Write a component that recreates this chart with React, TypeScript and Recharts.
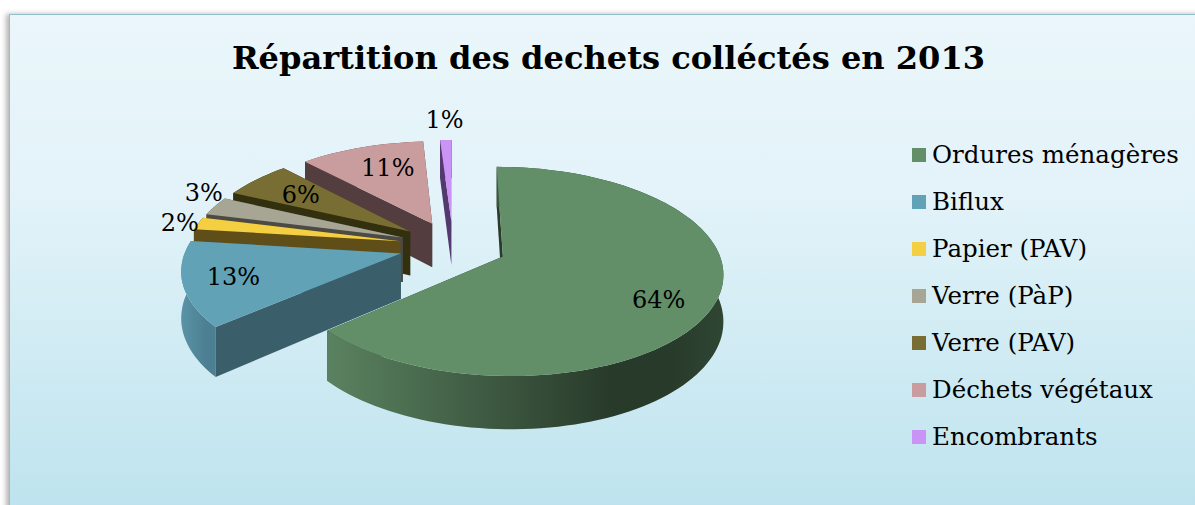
import React from 'react';
import { PieChart, Pie, Legend } from 'recharts';

const categories = ['Ordures ménagères', 'Biflux', 'Papier (PAV)', 'Verre (PàP)', 'Verre (PAV)', 'Déchets végétaux', 'Encombrants'];
const shares = [63.6, 13.4, 2, 3, 6, 11, 1];
const topColors = ['#628e68', '#62a2b7', '#f4cf42', '#a7a695', '#786e33', '#c99d9e', '#c994f5'];
const wallColors = ['#2a3b2c', '#3a5f6b', '#5f4e18', '#4c4a45', '#33300f', '#533d3f', '#54396e'];
const rimFrom = ['#5a8260', '#5a93a7', '#6a5a1c', '#55534b', '#3a3612', '#5a4345', '#5c3f78'];
const rimMid = ['#283a2a', '#4d7f92', '#5f4e18', '#4c4a45', '#33300f', '#533d3f', '#54396e'];
// label placement per slice: fraction of the radius, and angle nudge in degrees
const labelRadius = [0.775, 0.775, 1.09, 1.135, 0.695, 0.695, 1.285];
const labelNudge = [-6.6, 0, 0.5, -6, 0, -3, 0];

const CX = 453;
const CY = 246;
const RADIUS = 214;
const EXPLODE = 54;
const TILT = 0.465;
const PERSPECTIVE = 0.14;
const DEPTH = 45;
const SERIF = '"DejaVu Serif", serif';

// drawn far slice first: the list runs backwards and the pie runs counter-clockwise
const table = categories
  .map((name, i) => ({ name, value: shares[i], fill: topColors[i], idx: i }))
  .reverse();

const rad = (d: number) => (d * Math.PI) / 180;

function project(x: number, y: number, cx: number, cy: number, r: number, down = 0) {
  const s = 1 / (1 + (PERSPECTIVE * y) / r);
  return { x: cx + x * s, y: cy - TILT * y * s + down * s };
}

function path(pts: { x: number; y: number }[]) {
  return pts.map((p, i) => `${i ? 'L' : 'M'}${p.x.toFixed(1)} ${p.y.toFixed(1)}`).join(' ') + ' Z';
}

function Slice(props: any) {
  const { cx, cy, outerRadius: r, startAngle, endAngle, fill, payload } = props;
  const idx = payload?.idx ?? props.idx;
  const a0 = Math.min(startAngle, endAngle);
  const a1 = Math.max(startAngle, endAngle);
  const mid = (a0 + a1) / 2;
  const ox = EXPLODE * Math.cos(rad(mid));
  const oy = EXPLODE * Math.sin(rad(mid));
  const at = (a: number, f: number, down = 0) =>
    project(ox + f * r * Math.cos(rad(a)), oy + f * r * Math.sin(rad(a)), cx, cy, r, down);

  const steps = Math.max(3, Math.ceil((a1 - a0) / 2));
  const arc: number[] = [];
  for (let i = 0; i <= steps; i++) arc.push(a0 + ((a1 - a0) * i) / steps);

  const apex = at(0, 0);
  const apexLow = at(0, 0, DEPTH);
  const top = [apex, ...arc.map((a) => at(a, 1))];
  const rim = [...arc.map((a) => at(a, 1)), ...arc.slice().reverse().map((a) => at(a, 1, DEPTH))];
  const wallA = [apex, at(a0, 1), at(a0, 1, DEPTH), apexLow];
  const wallB = [apex, at(a1, 1), at(a1, 1, DEPTH), apexLow];
  // a cut face is only seen when it turns towards the viewer
  const aFront = Math.sin(rad(a0 - 90)) < 0;
  const bFront = Math.sin(rad(a1 + 90)) < -0.01;
  const gradId = `rim-${idx}`;

  return (
    <g>
      <defs>
        <linearGradient id={gradId} x1="0" y1="0" x2="1" y2="0">
          <stop offset="0" stopColor={rimFrom[idx]} />
          <stop offset="0.72" stopColor={rimMid[idx]} />
          <stop offset="0.86" stopColor={rimMid[idx]} />
          <stop offset="1" stopColor={idx === 0 ? '#2f4633' : rimMid[idx]} />
        </linearGradient>
      </defs>
      {!aFront && <path d={path(wallA)} fill={wallColors[idx]} />}
      {!bFront && <path d={path(wallB)} fill={wallColors[idx]} />}
      <path d={path(rim)} fill={`url(#${gradId})`} />
      {aFront && <path d={path(wallA)} fill={wallColors[idx]} />}
      {bFront && <path d={path(wallB)} fill={wallColors[idx]} />}
      <path d={path(top)} fill={fill} />
    </g>
  );
}

function sliceLabel(props: any) {
  const { cx, cy, midAngle, outerRadius: r, payload } = props;
  const idx = payload?.idx ?? props.idx;
  const ox = EXPLODE * Math.cos(rad(midAngle));
  const oy = EXPLODE * Math.sin(rad(midAngle));
  const a = midAngle + labelNudge[idx];
  const f = labelRadius[idx] * r;
  const p = project(ox + f * Math.cos(rad(a)), oy + f * Math.sin(rad(a)), cx, cy, r);
  return (
    <text x={p.x} y={p.y} textAnchor="middle" dominantBaseline="central" fontFamily={SERIF} fontSize={24} fill="#000">
      {Math.round(shares[idx])}%
    </text>
  );
}

function LegendList({ payload }: any) {
  const rows = categories.map((name) => (payload ?? []).find((row: any) => row.value === name)).filter(Boolean);
  return (
    <div>
      {rows.map((row: any) => (
        <div key={row.value} style={{ display: 'flex', alignItems: 'center', height: 47, whiteSpace: 'nowrap' }}>
          <span style={{ width: 14, height: 14, background: row.color, marginRight: 6 }} />
          <span style={{ fontFamily: SERIF, fontSize: 24.5, color: '#000' }}>{row.value}</span>
        </div>
      ))}
    </div>
  );
}

export default function App() {
  return (
    <div style={{ position: 'absolute', left: 0, top: 0, width: 1195, height: 505, overflow: 'hidden', background: '#fff' }}>
      <div
        style={{
          position: 'absolute',
          left: 9,
          top: 14,
          width: 1200,
          height: 500,
          border: '1.5px solid #96bfcc',
          boxShadow: '-3px 0 5px rgba(90,90,90,0.45)',
          background: 'linear-gradient(180deg, #eaf6fa 0%, #e3f3f9 35%, #bde3ee 100%)',
        }}
      />
      <div
        style={{
          position: 'absolute',
          left: 0,
          top: 36,
          width: 1217,
          textAlign: 'center',
          fontFamily: SERIF,
          fontWeight: 700,
          fontSize: 32.1,
          lineHeight: '44px',
          color: '#000',
          whiteSpace: 'nowrap',
        }}
      >
        Répartition des dechets colléctés en 2013
      </div>
      <div style={{ position: 'absolute', left: 0, top: 0 }}>
        <PieChart width={1195} height={505} margin={{ top: 0, right: 0, bottom: 0, left: 0 }}>
          <Pie
            data={table}
            dataKey="value"
            nameKey="name"
            cx={CX}
            cy={CY}
            outerRadius={RADIUS}
            startAngle={90}
            endAngle={450}
            stroke="none"
            shape={Slice}
            label={sliceLabel}
            labelLine={false}
            isAnimationActive={false}
          />
          <Legend
            content={<LegendList />}
            layout="vertical"
            wrapperStyle={{ position: 'absolute', left: 912, top: 131, width: 283 }}
          />
        </PieChart>
      </div>
    </div>
  );
}
